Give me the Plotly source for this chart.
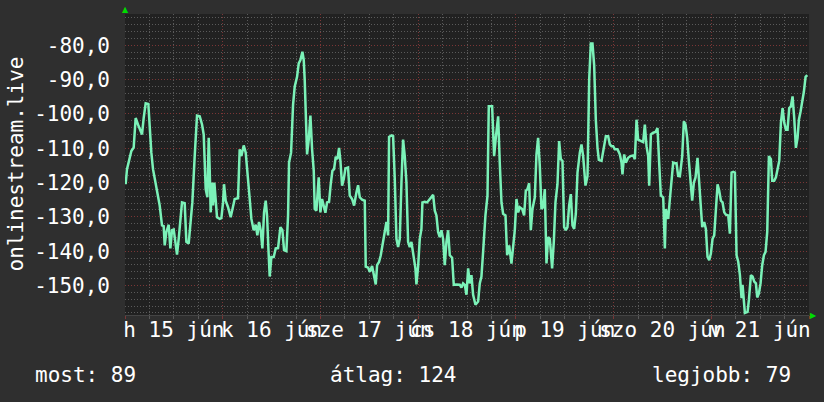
import plotly.graph_objects as go

# ---- data (hours since 2020-06-15 00:00, value) ----
hours = [0.16, 0.49, 0.98, 1.56, 2.13, 2.62, 3.19, 3.77, 4.18, 4.59, 5.08, 5.73, 6.06, 6.47, 6.88, 7.53, 7.86, 8.52,
         9.09, 9.50, 9.75, 10.16, 10.73, 11.14, 11.55, 11.96, 12.37, 12.78, 13.19, 13.60, 14.00, 14.66, 15.07, 15.64,
         16.05, 16.54, 17.12, 17.69, 18.35, 18.92, 19.33, 19.66, 19.82, 20.23, 20.56, 20.80, 21.05, 21.38, 21.62,
         21.95, 22.28, 22.60, 23.26, 23.67, 24.08, 24.32, 24.73, 25.31, 25.96, 26.54, 26.94, 27.76, 28.17, 28.58,
         29.16, 29.65, 30.22, 30.63, 31.04, 31.61, 32.10, 32.51, 32.92, 33.33, 33.74, 34.15, 34.56, 34.89, 35.22,
         35.54, 35.95, 36.53, 37.02, 37.59, 38.17, 38.66, 39.07, 39.64, 40.05, 40.29, 40.79, 41.28, 41.69, 42.26,
         42.67, 43.08, 43.57, 43.90, 44.14, 44.39, 44.72, 45.13, 45.54, 45.95, 46.36, 46.60, 47.01, 47.58, 47.99,
         48.40, 48.81, 49.22, 49.63, 50.12, 50.53, 50.94, 51.35, 51.76, 52.17, 52.58, 52.91, 53.32, 53.73, 54.14,
         54.79, 55.20, 55.77, 56.27, 56.84, 57.25, 57.66, 58.23, 58.89, 59.13, 59.71, 60.11, 60.69, 61.10, 61.59,
         61.92, 62.41, 62.82, 63.39, 63.80, 64.21, 64.62, 64.86, 65.44, 65.85, 66.26, 66.67, 67.08, 67.49, 67.90,
         68.30, 68.71, 69.12, 69.53, 69.94, 70.35, 70.76, 71.33, 71.58, 71.99, 72.40, 72.81, 73.05, 73.63, 74.20,
         74.69, 75.27, 75.68, 76.09, 76.49, 76.90, 77.31, 77.72, 78.13, 78.54, 78.95, 79.36, 79.77, 80.34, 80.75,
         81.41, 82.23, 82.64, 83.05, 83.46, 83.87, 84.28, 84.68, 85.09, 85.50, 86.08, 86.73, 87.14, 87.55, 87.96,
         88.53, 89.03, 89.35, 90.17, 90.66, 91.07, 91.65, 92.06, 92.47, 92.87, 93.45, 93.86, 94.35, 94.92, 95.33,
         95.74, 96.15, 96.56, 96.97, 97.54, 98.03, 98.44, 98.85, 99.26, 99.67, 100.08, 100.66, 101.06, 101.47,
         101.88, 102.29, 102.70, 103.11, 103.52, 103.93, 104.34, 104.91, 105.32, 105.73, 106.22, 106.63, 107.04,
         107.45, 107.86, 108.27, 108.68, 109.09, 109.50, 109.91, 110.32, 110.73, 111.14, 111.71, 112.12, 112.53,
         113.10, 113.60, 114.01, 114.41, 114.82, 115.23, 115.64, 116.05, 116.38, 117.04, 117.69, 118.10, 118.67,
         119.08, 119.49, 119.90, 120.31, 120.97, 121.54, 121.95, 122.19, 122.60, 123.01, 123.59, 124.16, 124.82,
         125.23, 125.64, 126.04, 126.70, 127.27, 127.68, 128.09, 128.50, 128.75, 129.16, 129.73, 130.30, 130.79,
         131.20, 131.61, 132.19, 132.60, 132.84, 133.42, 133.83, 134.23, 134.64, 135.05, 135.46, 135.87, 136.28,
         136.86, 137.26, 137.67, 138.08, 138.49, 138.98, 139.31, 139.72, 140.13, 140.62, 141.03, 141.36, 141.77,
         142.26, 142.67, 143.08, 143.49, 143.90, 144.31, 144.72, 145.13, 145.54, 145.95, 146.36, 146.77, 147.18,
         147.59, 148.16, 148.57, 148.98, 149.39, 149.80, 150.21, 150.62, 151.03, 151.43, 151.68, 152.01, 152.25,
         152.91, 153.24, 153.73, 154.14, 154.55, 154.96, 155.28, 155.69, 156.10, 156.51, 156.92, 157.33, 157.74,
         158.15, 158.64, 158.97, 159.46, 159.87, 160.28, 160.69, 161.10, 161.51, 161.92, 162.33, 162.73, 163.14,
         163.55, 163.96, 164.37, 164.78, 165.19, 165.52, 165.93, 166.34, 166.75, 167.16, 167.57]

values = [-120.5, -116.1, -113.7, -110.8, -109.8, -101.2, -103.1, -104.6, -106.0, -101.2, -96.9, -97.1, -103.6, -111.3,
          -116.1, -120.0, -122.9, -126.7, -132.5, -132.7, -138.3, -134.4, -132.3, -139.2, -133.9, -133.7, -137.3,
          -141.0, -136.4, -131.5, -125.8, -126.0, -137.3, -137.8, -132.0, -125.8, -112.3, -100.5, -100.7, -103.1,
          -106.0, -114.2, -121.9, -124.3, -107.0, -116.1, -128.7, -120.0, -126.7, -120.0, -126.7, -130.1, -130.6,
          -130.4, -125.8, -120.5, -125.3, -127.2, -130.1, -126.7, -124.8, -124.6, -110.3, -112.3, -109.2, -111.3,
          -120.5, -124.8, -130.6, -133.9, -132.3, -135.4, -131.5, -133.9, -139.2, -128.7, -125.3, -129.6, -139.2,
          -147.4, -141.7, -141.7, -139.2, -139.1, -133.0, -133.9, -139.7, -140.0, -129.6, -114.2, -111.3, -97.3,
          -92.0, -89.2, -85.3, -84.3, -81.9, -84.3, -90.1, -98.8, -111.8, -107.5, -100.5, -110.3, -116.6, -127.7,
          -128.2, -118.5, -128.7, -124.8, -127.2, -128.8, -125.8, -125.6, -120.5, -116.6, -116.1, -112.5, -113.2,
          -109.9, -113.7, -120.9, -119.0, -115.9, -115.6, -123.8, -124.8, -126.7, -122.9, -120.8, -124.3, -125.0,
          -125.3, -144.5, -144.8, -146.0, -144.3, -147.0, -149.7, -144.1, -143.1, -141.2, -137.3, -135.4, -131.5,
          -135.4, -106.7, -106.3, -106.5, -119.0, -136.4, -138.8, -136.4, -120.0, -107.5, -112.3, -120.0, -137.3,
          -138.8, -137.3, -141.2, -145.0, -149.7, -144.5, -136.4, -133.5, -125.8, -125.6, -125.8, -125.0, -124.3,
          -123.6, -128.2, -129.6, -134.4, -135.9, -133.9, -136.4, -144.1, -137.3, -133.9, -141.2, -141.9, -149.8,
          -149.7, -149.8, -150.6, -149.4, -149.8, -152.7, -145.0, -149.4, -147.0, -152.7, -155.6, -154.7, -149.4,
          -147.4, -140.2, -129.6, -123.8, -97.8, -97.8, -112.3, -107.0, -100.7, -114.7, -125.8, -129.1, -129.6,
          -141.2, -138.3, -143.6, -139.2, -133.9, -124.8, -128.7, -127.2, -127.7, -129.6, -122.4, -121.9, -120.2,
          -133.9, -127.7, -124.3, -111.8, -107.0, -115.2, -127.7, -127.2, -121.9, -143.6, -135.9, -136.4, -145.0,
          -137.3, -125.8, -120.5, -107.9, -113.2, -113.7, -133.0, -133.9, -133.0, -126.7, -123.4, -132.5, -133.5,
          -129.1, -117.1, -111.3, -108.9, -112.3, -120.9, -118.1, -90.1, -79.5, -79.5, -85.8, -101.7, -109.9,
          -113.4, -113.7, -109.9, -106.5, -106.5, -108.9, -109.4, -109.4, -110.3, -110.3, -111.8, -114.2, -117.6,
          -111.8, -114.2, -112.8, -112.3, -112.1, -113.2, -101.7, -107.5, -107.9, -108.2, -103.1, -109.4, -112.3,
          -120.9, -106.0, -105.5, -105.3, -104.1, -114.2, -123.8, -124.3, -139.2, -127.7, -130.6, -124.8, -120.5,
          -114.2, -114.4, -114.4, -118.1, -118.2, -112.3, -102.2, -103.1, -107.0, -113.7, -119.5, -125.3, -120.0,
          -118.5, -112.8, -120.0, -128.2, -133.0, -131.5, -133.5, -141.7, -142.6, -140.7, -136.4, -135.4, -127.7,
          -120.5, -122.4, -125.3, -125.8, -128.7, -129.4, -129.6, -134.9, -117.1, -116.9, -117.1, -141.2, -143.1,
          -147.0, -153.7, -149.8, -154.7, -158.0, -157.7, -154.2, -147.0, -147.4, -148.9, -149.4, -153.5, -152.3,
          -149.4, -144.1, -141.2, -140.2, -134.4, -112.3, -113.2, -119.5, -119.5, -118.5, -116.1, -113.7, -102.6,
          -98.3, -102.6, -104.6, -104.6, -98.3, -97.8, -94.9, -101.2, -109.9, -107.0, -101.7, -99.3, -96.4, -93.5,
          -89.2, -88.7]

day_centers = [12, 36, 60, 84, 108, 132, 156]
day_labels = ["h 15 jún", "k 16 jún", "sze 17 jún", "cs 18 jún", "p 19 jún", "szo 20 jún", "v 21 jún"]
y_ticks = [-80, -90, -100, -110, -120, -130, -140, -150]
y_labels = ["-80,0", "-90,0", "-100,0", "-110,0", "-120,0", "-130,0", "-140,0", "-150,0"]
series_name = "onlinestream.live"
stat_current = 89
stat_average = 124
stat_best = 79

FONT = "DejaVu Sans Mono"
FS = 21
TXT = "#ffffff"
BG = "#2f2f2f"
PLOT_BG = "#212121"
MINOR = "#5a5a5a"
MAJOR = "#7a3636"
LINE = "#7bf2b8"
DASH = "1px,2px"

fig = go.Figure()
fig.add_trace(go.Scatter(x=hours, y=values, mode="lines",
                         line=dict(color=LINE, width=2.5), showlegend=False, hoverinfo="skip"))

fig.update_layout(
    width=824, height=402, autosize=False,
    margin=dict(l=125, r=15, t=14, b=87),
    paper_bgcolor=BG, plot_bgcolor=PLOT_BG,
    font=dict(family=FONT, size=FS, color=TXT),
    xaxis=dict(range=[0, 168], tickmode="linear", tick0=0, dtick=24, automargin=False,
               showticklabels=False, showgrid=True, gridcolor=MAJOR, griddash=DASH, gridwidth=1,
               ticks="outside", ticklen=3, tickcolor=MAJOR,
               minor=dict(tickmode="linear", tick0=0, dtick=6, showgrid=True, gridcolor=MINOR,
                          griddash=DASH, gridwidth=1, ticks="outside", ticklen=3, tickcolor=MINOR),
               showline=True, linecolor="#444444", linewidth=1, zeroline=False, fixedrange=True),
    xaxis2=dict(range=[0, 168], overlaying="x", side="bottom", tickmode="array", automargin=False,
                tickvals=day_centers, ticktext=day_labels, tickangle=0, showgrid=False, zeroline=False,
                ticks="", tickfont=dict(family=FONT, size=FS, color=TXT), fixedrange=True),
    yaxis=dict(range=[-158.6, -70.9], tickmode="array", tickvals=y_ticks, ticktext=y_labels,
               automargin=False, showgrid=True, gridcolor=MAJOR, griddash=DASH, gridwidth=1,
               ticks="", ticklabelstandoff=14,
               minor=dict(tickmode="linear", tick0=0, dtick=2, showgrid=True, gridcolor=MINOR,
                          griddash=DASH, gridwidth=1),
               zeroline=False, showline=False, fixedrange=True),
)

# invisible trace so that xaxis2 gets drawn
fig.add_trace(go.Scatter(x=[0, 168], y=[-100, -100], xaxis="x2", mode="lines",
                         line=dict(width=0), opacity=0, showlegend=False, hoverinfo="skip"))

ph = 402 - 14 - 87
pw = 824 - 125 - 15
annots = [
    dict(text=series_name, x=(15 - 125) / pw, y=0.5, xref="paper", yref="paper",
         textangle=-90, xanchor="center", yanchor="middle", showarrow=False),
    dict(text=f"most: {stat_current}", x=(33 - 125) / pw, y=(315 - 375) / ph, xref="paper", yref="paper",
         xanchor="left", yanchor="middle", showarrow=False),
    dict(text=f"átlag: {stat_average}", x=(328 - 125) / pw, y=(315 - 375) / ph, xref="paper", yref="paper",
         xanchor="left", yanchor="middle", showarrow=False),
    dict(text=f"legjobb: {stat_best}", x=(650 - 125) / pw, y=(315 - 375) / ph, xref="paper", yref="paper",
         xanchor="left", yanchor="middle", showarrow=False),
    dict(text="▲", x=0, y=(315 - 10) / ph, xref="paper", yref="paper", xanchor="center", yanchor="middle",
         showarrow=False, font=dict(family="DejaVu Sans", size=8, color="#00dd00")),
    dict(text="▶", x=(813 - 125) / pw, y=0, xref="paper", yref="paper", xanchor="center", yanchor="middle",
         showarrow=False, font=dict(family="DejaVu Sans", size=8, color="#00dd00")),
]
fig.update_layout(annotations=annots)

fig.write_html("out.html")
